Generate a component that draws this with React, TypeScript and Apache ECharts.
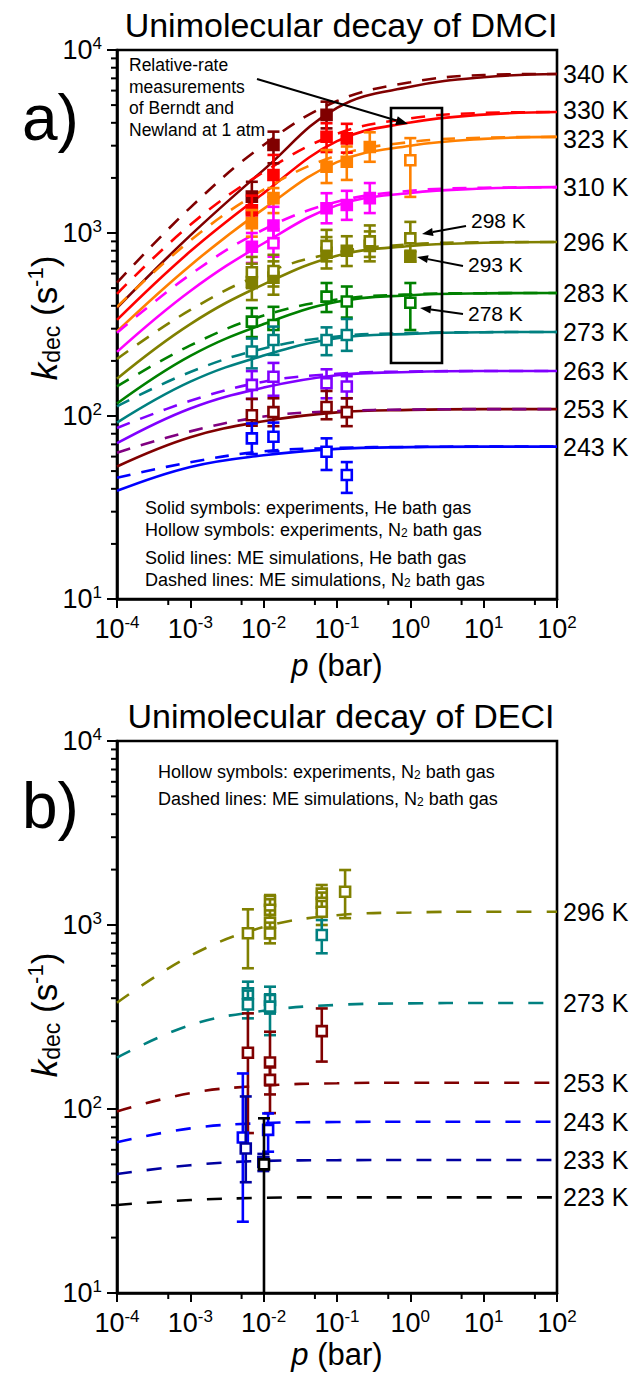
import React, { useEffect, useRef } from 'react';
import * as echarts from 'echarts';

const FF = 'Liberation Sans, Arial, Helvetica, sans-serif';

// pressures (bar) at which the model curves are read
const P_MODEL = [1e-4, 1e-3, 1e-2, 1e-1, 1, 10, 100];

// ---- Panel a: DMCI, ME simulations (solid = He, dashed = N2) ----
const A340_He = [390, 970, 2213, 4830, 6290, 7100, 7400];
const A340_N2 = [535, 1377, 3027, 5260, 6660, 7300, 7400];
const A330_He = [335, 794, 1652, 3177, 4018, 4436, 4580];
const A330_N2 = [465, 1109, 2153, 3483, 4227, 4530, 4580];
const A323_He = [290, 665, 1355, 2438, 2999, 3268, 3350];
const A323_N2 = [395, 910, 1726, 2649, 3141, 3316, 3350];
const A310_He = [224, 482, 879, 1416, 1655, 1750, 1780];
const A310_N2 = [285, 593, 1045, 1482, 1700, 1766, 1780];
const A296_He = [160, 318, 524, 752, 849, 884, 893];
const A296_N2 = [205, 380, 601, 783, 867, 889, 893];
const A283_He = [117, 213, 318, 421, 457, 468, 470];
const A283_N2 = [145, 243, 354, 433, 462, 469, 470];
const A273_He = [92, 154, 214, 266, 281, 287, 288];
const A273_N2 = [113, 174, 234, 272, 284, 287, 288];
const A263_He = [71, 110, 143, 167, 174, 176, 176];
const A263_N2 = [86, 121, 154, 170, 175, 176, 176];
const A253_He = [53, 76.6, 93.6, 104.7, 108, 109, 109];
const A253_N2 = [63, 82.4, 99.3, 106.3, 108.5, 109, 109];
const A243_He = [39, 52.7, 61, 66.1, 67.6, 68, 68];
const A243_N2 = [46, 55.9, 64.1, 66.9, 67.8, 68, 68];

// ---- Panel a: experiments [p (bar), k, k_low, k_high] ----
const A340_He_exp = [[0.0069, 1580, 1280, 1905], [0.0136, 3025, 2405, 3580], [0.072, 4420, 3730, 5220]];
const A330_He_exp = [[0.0069, 1330, 1100, 1600], [0.0136, 2075, 1575, 2670], [0.072, 3360, 2770, 3980], [0.136, 3290, 2750, 3950]];
const A323_He_exp = [[0.0069, 1130, 955, 1335], [0.0136, 1550, 1285, 1760], [0.072, 2300, 1875, 2840], [0.136, 2450, 1950, 2970], [0.28, 2950, 2450, 3550]];
const A323_N2_exp = [[1.0, 2500, 1575, 3300]];
const A310_He_exp = [[0.0069, 841, 686, 1000], [0.0136, 1100, 900, 1390], [0.072, 1365, 1130, 1650], [0.136, 1422, 1180, 1700], [0.28, 1550, 1285, 1875]];
const A310_N2_exp = [[0.0136, 880, 742, 1050]];
const A296_He_exp = [[0.0069, 540, 430, 680], [0.0136, 570, 460, 700], [0.072, 780, 640, 950], [0.136, 800, 660, 960], [0.28, 850, 700, 1020], [1.0, 742, 700, 790]];
const A296_N2_exp = [[0.0069, 610, 500, 740], [0.0136, 620, 510, 760], [0.072, 850, 700, 1040], [0.28, 900, 740, 1100], [1.0, 935, 800, 1150]];
const A283_N2_exp = [[0.0069, 328, 270, 389], [0.0136, 314, 255, 395], [0.072, 449, 370, 533], [0.136, 422, 345, 510], [1.0, 416, 295, 533]];
const A273_N2_exp = [[0.0069, 225, 182, 265], [0.0136, 260, 216, 308], [0.072, 260, 215, 305], [0.136, 277, 227, 339]];
const A263_N2_exp = [[0.0069, 148, 124, 176], [0.0136, 164, 129, 195], [0.072, 151, 125, 180], [0.136, 145, 125, 165]];
const A253_N2_exp = [[0.0069, 101, 88.5, 124], [0.0136, 105, 88, 125], [0.072, 112, 96, 137], [0.136, 105, 88, 125]];
const A243_N2_exp = [[0.0069, 75.5, 62, 91], [0.0136, 77, 64, 92], [0.072, 63.8, 50.7, 75.5], [0.136, 47.6, 38, 56]];

// ---- Panel b: DECI, ME simulations (N2, dashed) ----
const B296_N2 = [378, 680, 975, 1130, 1170, 1180, 1180];
const B273_N2 = [190, 286, 342, 368, 375, 377, 377];
const B253_N2 = [97, 122, 134, 138, 139, 139, 139];
const B243_N2 = [66, 78.5, 83.8, 85, 85.3, 85.3, 85.3];
const B233_N2 = [44.3, 49.5, 52.2, 52.7, 52.8, 52.8, 52.8];
const B223_N2 = [30.1, 32, 32.9, 33.1, 33.1, 33.1, 33.1];

// ---- Panel b: experiments (N2, hollow) ----
const B296_exp = [[0.0061, 902, 582, 1217], [0.0122, 1350, 1180, 1455], [0.0122, 1210, 1050, 1380], [0.0122, 1030, 900, 1200], [0.0122, 900, 795, 1030], [0.062, 1480, 1300, 1650], [0.062, 1320, 1150, 1500], [0.062, 1180, 1000, 1350], [0.129, 1517, 1090, 1990]];
const B273_exp = [[0.0061, 426, 360, 492], [0.0061, 370, 311, 440], [0.0122, 391, 330, 462], [0.0122, 360, 252, 420], [0.062, 883, 702, 1064]];
const B253_exp = [[0.0061, 202, 74, 331], [0.0122, 179, 95, 263], [0.0122, 144, 120, 170], [0.062, 265, 181, 352]];
const B243_exp = [[0.0052, 70, 24.4, 156], [0.0115, 77, 58.6, 94.6]];
const B233_exp = [[0.0057, 61, 40, 117], [0.0099, 51.5, 46, 57]];
const B223_exp = [[0.0101, 50, 5, 89]];

// tick values
const Y_MINOR = [20, 30, 40, 50, 60, 70, 80, 90, 200, 300, 400, 500, 600, 700, 800, 900, 2000, 3000, 4000, 5000, 6000, 7000, 8000, 9000];
const X_MINOR = [5e-4, 5e-3, 5e-2, 0.5, 5, 50];

const C = {
  k340: '#800000', k330: '#ff0000', k323: '#ff8000', k310: '#ff00ff', k296: '#808000',
  k283: '#008000', k273: '#008080', k263: '#8000ff', k253: '#800000', k253d: '#800080',
  k243: '#0000ff', k233: '#0000a0', k223: '#000000',
};

function curve(vals: number[], color: string, dashed: boolean, idx: number, label?: string, dash?: number[], dy = 0) {
  return {
    type: 'line',
    xAxisIndex: idx,
    yAxisIndex: idx,
    data: P_MODEL.map((p, i) => [p, vals[i]]),
    showSymbol: false,
    symbol: 'none',
    smooth: 0.4,
    silent: true,
    z: dashed ? 3 : 2,
    lineStyle: { color, width: 2.6, type: dashed ? (dash || [14, 11]) : 'solid', cap: 'butt' },
    itemStyle: { color },
    endLabel: label
      ? { show: true, formatter: label, color: '#000', fontSize: 25, lineHeight: 22, fontFamily: FF, distance: 6, offset: [0, dy] }
      : { show: false },
  };
}

function errs(data: number[][], color: string, hollow: boolean, idx: number) {
  return {
    type: 'custom',
    xAxisIndex: idx,
    yAxisIndex: idx,
    data,
    encode: { x: 0, y: 1 },
    clip: true,
    silent: true,
    z: 6,
    renderItem: (_params: any, api: any) => {
      const p = api.value(0);
      const c = api.coord([p, api.value(1)]);
      const lo = api.coord([p, api.value(2)]);
      const hi = api.coord([p, api.value(3)]);
      const hw = 6;
      const s = 5;
      const st = { stroke: color, lineWidth: 2.6 };
      return {
        type: 'group',
        children: [
          { type: 'line', shape: { x1: c[0], y1: lo[1], x2: c[0], y2: hi[1] }, style: st },
          { type: 'line', shape: { x1: c[0] - hw, y1: hi[1], x2: c[0] + hw, y2: hi[1] }, style: st },
          { type: 'line', shape: { x1: c[0] - hw, y1: lo[1], x2: c[0] + hw, y2: lo[1] }, style: st },
          { type: 'rect', shape: { x: c[0] - s, y: c[1] - s, width: 2 * s, height: 2 * s }, style: { fill: hollow ? '#fff' : color, stroke: color, lineWidth: 2.6 } },
        ],
      };
    },
  };
}

function minorTicks(idx: number) {
  return [
    {
      type: 'custom', xAxisIndex: idx, yAxisIndex: idx, silent: true, clip: false, z: 7,
      data: Y_MINOR.map((v) => [1e-4, v]),
      encode: { x: 0, y: 1 },
      renderItem: (_p: any, api: any) => {
        const c = api.coord([api.value(0), api.value(1)]);
        return { type: 'line', shape: { x1: c[0] - 6, y1: c[1], x2: c[0], y2: c[1] }, style: { stroke: '#000', lineWidth: 2 } };
      },
    },
    {
      type: 'custom', xAxisIndex: idx, yAxisIndex: idx, silent: true, clip: false, z: 7,
      data: X_MINOR.map((v) => [v, 10]),
      encode: { x: 0, y: 1 },
      renderItem: (_p: any, api: any) => {
        const c = api.coord([api.value(0), api.value(1)]);
        return { type: 'line', shape: { x1: c[0], y1: c[1], x2: c[0], y2: c[1] + 6 }, style: { stroke: '#000', lineWidth: 2 } };
      },
    },
  ];
}

const expLabel = (v: number) => `{b|10}{s|${Math.round(Math.log10(v))}}`;
const labelRich = {
  b: { fontSize: 27, fontFamily: FF, color: '#000', lineHeight: 30 },
  s: { fontSize: 17, fontFamily: FF, color: '#000', lineHeight: 19, verticalAlign: 'top' },
};

function xAxis(idx: number) {
  return {
    type: 'log', logBase: 10, gridIndex: idx, min: 1e-4, max: 100, splitNumber: 6,
    axisLine: { show: true, lineStyle: { color: '#000', width: 2.6 } },
    axisTick: { show: true, inside: false, length: 9, lineStyle: { color: '#000', width: 2 } },
    minorTick: { show: false },
    splitLine: { show: false },
    axisLabel: { show: true, margin: 15, formatter: expLabel, rich: labelRich },
  };
}
function yAxis(idx: number) {
  return {
    type: 'log', logBase: 10, gridIndex: idx, min: 10, max: 10000, splitNumber: 3,
    axisLine: { show: true, lineStyle: { color: '#000', width: 2.6 } },
    axisTick: { show: true, inside: false, length: 10, lineStyle: { color: '#000', width: 2 } },
    minorTick: { show: false },
    splitLine: { show: false },
    axisLabel: { show: true, margin: 15, formatter: expLabel, rich: labelRich },
  };
}

function txt(x: number, y: number, text: string, size: number, align = 'left', extra: any = {}, lh = 1.1) {
  return {
    type: 'text', x, y, silent: true, z: 20, ...extra,
    style: {
      text, fill: '#000', fontSize: size, fontFamily: FF,
      align, textAlign: align, verticalAlign: 'middle', textVerticalAlign: 'middle',
      rich: {
        sub: { fontSize: Math.round(size * 0.65), fontFamily: FF, fill: '#000', verticalAlign: 'bottom', lineHeight: Math.round(size * 0.75) },
        sup: { fontSize: Math.round(size * 0.62), fontFamily: FF, fill: '#000', verticalAlign: 'top', lineHeight: Math.round(size * 0.7) },
        i: { fontSize: size, fontFamily: FF, fill: '#000', fontStyle: 'italic', lineHeight: Math.round(size * lh) },
        n: { fontSize: size, fontFamily: FF, fill: '#000', lineHeight: Math.round(size * lh) },
      },
    },
  };
}

function arrow(x1: number, y1: number, x2: number, y2: number, head = 12, half = 4.5) {
  const dx = x2 - x1, dy = y2 - y1;
  const L = Math.hypot(dx, dy);
  const ux = dx / L, uy = dy / L;
  const bx = x2 - ux * head, by = y2 - uy * head;
  return [
    { type: 'line', silent: true, z: 20, shape: { x1, y1, x2: bx, y2: by }, style: { stroke: '#000', lineWidth: 2 } },
    { type: 'polygon', silent: true, z: 20, shape: { points: [[x2, y2], [bx - uy * half, by + ux * half], [bx + uy * half, by - ux * half]] }, style: { fill: '#000' } },
  ];
}

function buildOption() {
  const series: any[] = [
    curve(A340_He, C.k340, false, 0, '340 K'), curve(A340_N2, C.k340, true, 0),
    curve(A330_He, C.k330, false, 0, '330 K', undefined, -2), curve(A330_N2, C.k330, true, 0),
    curve(A323_He, C.k323, false, 0, '323 K', undefined, 2), curve(A323_N2, C.k323, true, 0),
    curve(A310_He, C.k310, false, 0, '310 K'), curve(A310_N2, C.k310, true, 0),
    curve(A296_He, C.k296, false, 0, '296 K'), curve(A296_N2, C.k296, true, 0),
    curve(A283_He, C.k283, false, 0, '283 K'), curve(A283_N2, C.k283, true, 0),
    curve(A273_He, C.k273, false, 0, '273 K'), curve(A273_N2, C.k273, true, 0),
    curve(A263_He, C.k263, false, 0, '263 K'), curve(A263_N2, C.k263, true, 0),
    curve(A253_He, C.k253, false, 0, '253 K'), curve(A253_N2, C.k253d, true, 0),
    curve(A243_He, C.k243, false, 0, '243 K'), curve(A243_N2, C.k243, true, 0),
    errs(A340_He_exp, C.k340, false, 0),
    errs(A330_He_exp, C.k330, false, 0),
    errs(A323_He_exp, C.k323, false, 0),
    errs(A323_N2_exp, C.k323, true, 0),
    errs(A310_He_exp, C.k310, false, 0),
    errs(A310_N2_exp, C.k310, true, 0),
    errs(A296_He_exp, C.k296, false, 0),
    errs(A296_N2_exp, C.k296, true, 0),
    errs(A283_N2_exp, C.k283, true, 0),
    errs(A273_N2_exp, C.k273, true, 0),
    errs(A263_N2_exp, C.k263, true, 0),
    errs(A253_N2_exp, C.k253, true, 0),
    errs(A243_N2_exp, C.k243, true, 0),
    ...minorTicks(0),
    curve(B296_N2, C.k296, true, 1, '296 K', [15, 15]),
    curve(B273_N2, C.k273, true, 1, '273 K', [15, 15]),
    curve(B253_N2, C.k253, true, 1, '253 K', [15, 15]),
    curve(B243_N2, C.k243, true, 1, '243 K', [15, 15]),
    curve(B233_N2, C.k233, true, 1, '233 K', [15, 15]),
    curve(B223_N2, C.k223, true, 1, '223 K', [15, 15]),
    errs(B296_exp, C.k296, true, 1),
    errs(B273_exp, C.k273, true, 1),
    errs(B253_exp, C.k253, true, 1),
    errs(B243_exp, C.k243, true, 1),
    errs(B233_exp, C.k233, true, 1),
    errs(B223_exp, C.k223, true, 1),
    ...minorTicks(1),
  ];

  const yTitle = '{i|k}{sub|dec}{n| (s}{sup|-1}{n|)}';
  const graphics: any[] = [
    // panel a
    txt(341, 25, 'Unimolecular decay of DMCI', 34, 'center'),
    txt(22, 118, 'a)', 64, 'left'),
    txt(44, 318, yTitle, 35, 'center', { rotation: Math.PI / 2 }),
    txt(337, 665, '{i|p}{n| (bar)}', 31, 'center', {}, 1.0),
    txt(129, 65, 'Relative-rate', 17.5),
    txt(129, 87, 'measurements', 17.5),
    txt(129, 108, 'of Berndt and', 17.5),
    txt(129, 130, 'Newland at 1 atm', 17.5),
    ...arrow(257, 79, 408, 124),
    { type: 'rect', silent: true, z: 19, shape: { x: 391, y: 108, width: 51, height: 255 }, style: { fill: 'none', stroke: '#000', lineWidth: 2.6 } },
    txt(471, 220, '298 K', 21),
    ...arrow(466, 226, 422, 234, 11, 4),
    txt(468, 264, '293 K', 21),
    ...arrow(463, 266, 417, 257, 11, 4),
    txt(468, 313, '278 K', 21),
    ...arrow(463, 314, 420, 308, 11, 4),
    txt(145, 508, 'Solid symbols: experiments, He bath gas', 18),
    txt(145, 530, 'Hollow symbols: experiments, N{sub|2} bath gas', 18),
    txt(145, 558, 'Solid lines: ME simulations, He bath gas', 18),
    txt(145, 580, 'Dashed lines: ME simulations, N{sub|2} bath gas', 18),
    // panel b
    txt(341, 716, 'Unimolecular decay of DECI', 34, 'center'),
    txt(22, 806, 'b)', 64, 'left'),
    txt(44, 1015, yTitle, 35, 'center', { rotation: Math.PI / 2 }),
    txt(337, 1354, '{i|p}{n| (bar)}', 31, 'center', {}, 1.0),
    txt(158, 772, 'Hollow symbols: experiments, N{sub|2} bath gas', 18),
    txt(158, 799, 'Dashed lines: ME simulations, N{sub|2} bath gas', 18),
  ];

  return {
    animation: false,
    backgroundColor: '#fff',
    grid: [
      { left: 117, top: 50, width: 440, height: 549, show: true, borderColor: '#000', borderWidth: 2.6, backgroundColor: 'transparent' },
      { left: 117, top: 741, width: 440, height: 552, show: true, borderColor: '#000', borderWidth: 2.6, backgroundColor: 'transparent' },
    ],
    xAxis: [xAxis(0), xAxis(1)],
    yAxis: [yAxis(0), yAxis(1)],
    series,
    graphic: { elements: graphics },
  };
}

export default function App() {
  const ref = useRef<HTMLDivElement>(null);
  useEffect(() => {
    const chart = echarts.init(ref.current as HTMLDivElement, null, { renderer: 'svg' });
    chart.setOption(buildOption() as any);
    return () => chart.dispose();
  }, []);
  return (
    <div
      ref={ref}
      style={{ position: 'absolute', left: 0, top: 0, width: 640, height: 1373, background: '#fff' }}
    />
  );
}
